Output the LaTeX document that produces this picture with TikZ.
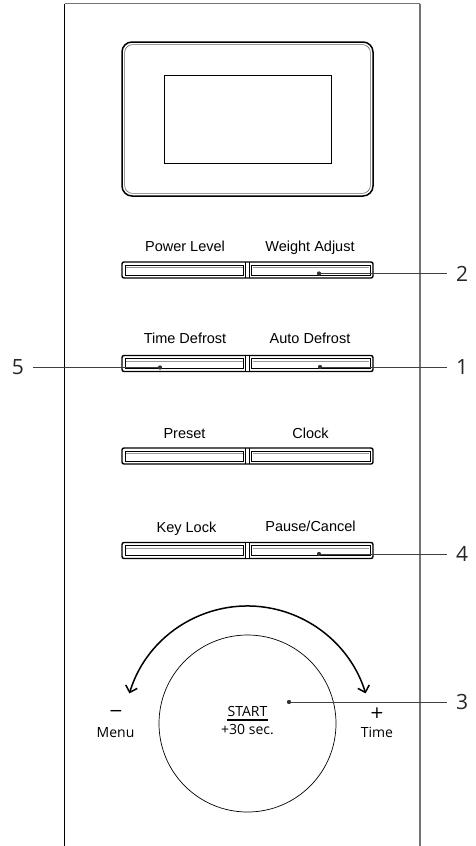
\documentclass[tikz,border=0pt]{standalone}
\usepackage{fontspec}
\setmainfont{Liberation Sans}
\newfontfamily\hum{Open Sans}
\newfontfamily\symf{DejaVu Sans}
\usetikzlibrary{arrows.meta}
\begin{document}
\begin{tikzpicture}[x=1pt,y=-1pt,
  btnlabel/.style={anchor=base, inner sep=0pt, font=\fontsize{14.5}{16}\selectfont},
  num/.style={font=\hum\fontsize{21}{24}\selectfont, inner ysep=0pt, inner xsep=9pt, text=black!85},
  leader/.style={draw=black!75, line width=0.9pt},
  dot/.style={circle, fill=black!80, inner sep=0pt, minimum size=4pt},
  dial/.style={font=\hum\fontsize{14}{16}\selectfont, inner sep=0pt},
  sign/.style={font=\symf\fontsize{17}{18}\selectfont, inner sep=0pt},
  keypair/.pic={
    \draw[line width=1.4pt, rounded corners=2pt] (-125.5,-8) rectangle (125.5,8);
    \draw[line width=0.7pt] (-122.5,-5) rectangle (-4,5);
    \draw[line width=0.7pt] (4,-5) rectangle (122.5,5);
    \draw[black!40, line width=0.4pt] (-121.5,-2.6) -- (-5,-2.6) (5,-2.6) -- (121.5,-2.6);
    \fill[white] (-2,-7.2) rectangle (2,7.2);
    \draw[line width=0.6pt] (-2,-8) -- (-2,8) (2,-8) -- (2,8);
  }
]
\useasboundingbox (0,0) rectangle (475,846);
\fill[white] (0,0) rectangle (475,846);
% panel outline
\draw[black, line width=1pt] (64.5,846) -- (64.5,3.5);
\draw[black!55, line width=1pt] (64.5,3.5) -- (420,3.5);
\draw[black!55, line width=1.6pt] (420,3.5) -- (420,846);
% display
\draw[line width=1.5pt, rounded corners=10pt] (122,42) rectangle (373,196);
\draw[line width=0.6pt, black!60, rounded corners=8pt] (124.6,44.6) rectangle (370.4,193.4);
\draw[line width=0.9pt] (164,75) rectangle (331,163);
% button rows
\pic at (247.5,270) {keypair};
\pic at (247.5,363.5) {keypair};
\pic at (247.5,456) {keypair};
\pic at (247.5,550.5) {keypair};
% labels
\node[btnlabel] (lpow) at (185,251) {Power Level};
\node[btnlabel] (lwgt) at (310,251) {Weight Adjust};
\node[btnlabel] (ltdf) at (185,343) {Time Defrost};
\node[btnlabel] (ladf) at (310,343) {Auto Defrost};
\node[btnlabel] (lpre) at (184.5,438) {Preset};
\node[btnlabel] (lclk) at (310.5,438) {Clock};
\node[btnlabel] (lkey) at (186.5,532.5) {Key Lock};
\node[btnlabel] (lpau) at (310.5,531) {Pause/Cancel};
% dial
\node[circle, draw, line width=0.7pt, minimum size=177pt, inner sep=0pt] (knob) at (247.5,723.5) {};
\node[dial, anchor=base] (start) at (247.5,716) {START};
\draw[line width=1.1pt] ([yshift=-4pt]start.base west) -- ([yshift=-4pt]start.base east);
\node[dial, anchor=base] (sec) at (247.5,734) {+30 sec.};
\node[dial, anchor=base] (menu) at (115.5,737) {Menu};
\node[dial, anchor=base] (time) at (377,737) {Time};
\node[sign] (minus) at (116,713) {−};
\node[sign] (plus) at (377,713) {+};
\coordinate (arcL) at (129.4,693.4);
\draw[line width=1.5pt, {Straight Barb[length=6pt,width=12pt]}-{Straight Barb[length=6pt,width=12pt]}]
  (arcL) arc[start angle=197, end angle=343, radius=123.5];
% numbered callouts
\node[num, anchor=west] (n2) at (447,273.5) {2};
\node[num, anchor=west] (n1) at (447,367) {1};
\node[num, anchor=east] (n5) at (33,367.5) {5};
\node[num, anchor=west] (n4) at (447,554) {4};
\node[num, anchor=west] (n3) at (447,702) {3};
\node[dot] (d2) at (319,273.5) {};
\node[dot] (d1) at (320,367) {};
\node[dot] (d5) at (160,367.5) {};
\node[dot] (d4) at (319,554) {};
\node[dot] (d3) at (289,702) {};
\draw[leader] (d2.center) -- (n2.west);
\draw[leader] (d1.center) -- (n1.west);
\draw[leader] (d5.center) -- (n5.east);
\draw[leader] (d4.center) -- (n4.west);
\draw[leader] (d3.center) -- (n3.west);
\foreach \d in {d1,d2,d3,d4,d5} \fill[black!80] (\d) circle[radius=2pt];
\end{tikzpicture}
\end{document}
